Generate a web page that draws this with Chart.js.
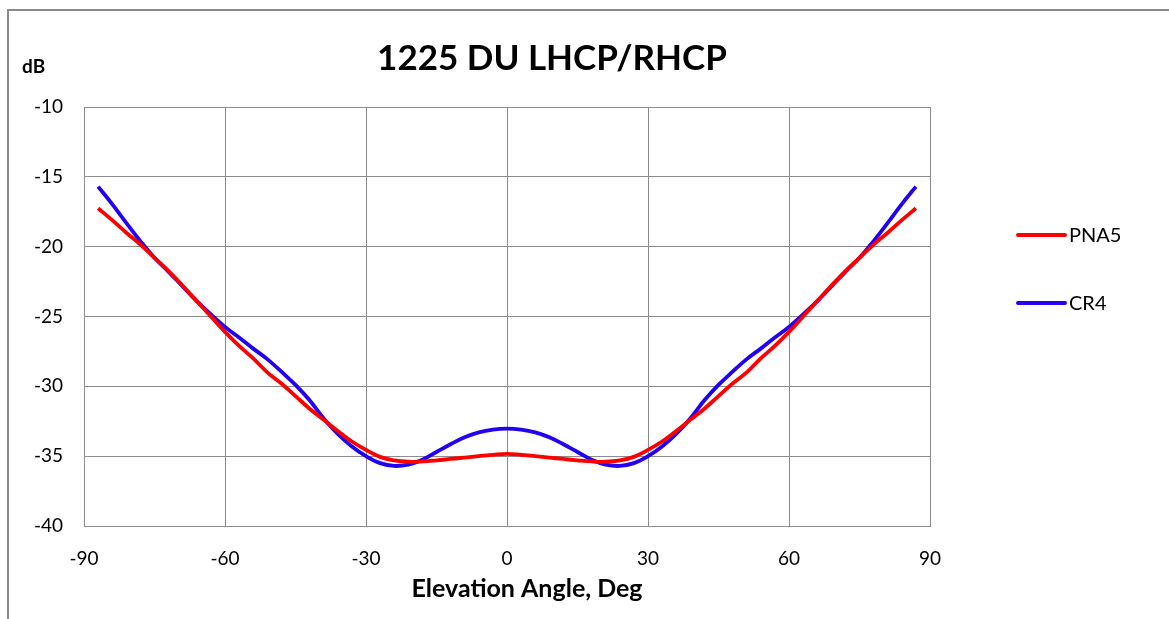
<!DOCTYPE html>
<html>
<head>
<meta charset="utf-8">
<script src="https://cdn.jsdelivr.net/npm/chart.js@4/dist/chart.umd.min.js"></script>
<style>
  html, body { margin: 0; padding: 0; background: #fff; }
  #wrap { position: relative; width: 1169px; height: 619px; }
  #frame { position: absolute; left: 7px; top: 9px; width: 1200px; height: 700px;
           border-left: 2px solid #8a8a8a; border-top: 2px solid #8a8a8a; box-sizing: border-box; }
  canvas { position: absolute; left: 0; top: 0; }
</style>
</head>
<body>
<div id="wrap">
  <div id="frame"></div>
  <canvas id="chart" width="1169" height="619"></canvas>
</div>
<script>
// elevation angle, deg
const angles = [-87, -84, -81, -78, -75, -72, -69, -66, -63, -60, -57, -54, -51, -48, -45, -42, -39, -36, -33, -30,
  -27, -24, -21, -18, -15, -12, -9, -6, -3, 0, 3, 6, 9, 12, 15, 18, 21, 24, 27, 30,
  33, 36, 39, 42, 45, 48, 51, 54, 57, 60, 63, 66, 69, 72, 75, 78, 81, 84, 87];

const pna5 = [-17.25, -18.1, -19.0, -19.85, -20.8, -21.75, -22.8, -23.9, -25.0, -26.1, -27.1, -28.0, -29.0, -29.8, -30.7, -31.6, -32.4, -33.2, -33.95, -34.55,
  -35.05, -35.3, -35.4, -35.38, -35.3, -35.2, -35.1, -35.0, -34.9, -34.83, -34.9, -35.0, -35.1, -35.2, -35.3, -35.38, -35.4, -35.3, -35.05, -34.55,
  -33.95, -33.2, -32.4, -31.6, -30.7, -29.8, -29.0, -28.0, -27.1, -26.1, -25.0, -23.9, -22.8, -21.75, -20.8, -19.85, -19.0, -18.1, -17.25];

const cr4 = [-15.7, -16.95, -18.3, -19.6, -20.8, -21.8, -22.85, -23.9, -24.85, -25.75, -26.5, -27.3, -28.05, -28.95, -29.9, -31.0, -32.3, -33.4, -34.3, -35.0,
  -35.5, -35.7, -35.6, -35.25, -34.7, -34.15, -33.65, -33.3, -33.1, -33.03, -33.1, -33.3, -33.65, -34.15, -34.7, -35.25, -35.6, -35.7, -35.5, -35.0,
  -34.3, -33.4, -32.3, -31.0, -29.9, -28.95, -28.05, -27.3, -26.5, -25.75, -24.85, -23.9, -22.85, -21.8, -20.8, -19.6, -18.3, -16.95, -15.7];

const xTicks = [-90, -60, -30, 0, 30, 60, 90];
const yTicks = [-40, -35, -30, -25, -20, -15, -10];

const FONT = 'Lato, "Open Sans", sans-serif';
const RED = '#ff0000';
const BLUE = '#2200f0';

function pts(ys) {
  return angles.map((a, i) => ({ x: a, y: ys[i] }));
}

// titles and legend, drawn at Excel-like positions
const textPlugin = {
  id: 'texts',
  afterDraw(chart) {
    const c = chart.ctx;
    c.save();
    c.fillStyle = '#000';
    c.textBaseline = 'middle';
    c.textAlign = 'center';
    c.font = 'bold 35px ' + FONT;
    c.fillText('1225 DU LHCP/RHCP', 552, 59);
    c.font = 'bold 25px ' + FONT;
    c.fillText('Elevation Angle, Deg', 527, 589);
    c.textAlign = 'left';
    c.font = 'bold 19px ' + FONT;
    c.fillText('dB', 22, 67);

    const items = [['PNA5', RED, 235], ['CR4', BLUE, 303]];
    c.font = '20px ' + FONT;
    items.forEach(([label, col, y]) => {
      c.strokeStyle = col;
      c.lineWidth = 4;
      c.lineCap = 'round';
      c.beginPath();
      c.moveTo(1018, y);
      c.lineTo(1065, y);
      c.stroke();
      c.fillStyle = '#000';
      c.fillText(label, 1069, y + 1);
    });
    c.restore();
  }
};

new Chart(document.getElementById('chart'), {
  type: 'line',
  data: {
    datasets: [
      { label: 'PNA5', data: pts(pna5), borderColor: RED, borderWidth: 3.8, pointRadius: 0, tension: 0.4 },
      { label: 'CR4', data: pts(cr4), borderColor: BLUE, borderWidth: 3.8, pointRadius: 0, tension: 0.4 }
    ]
  },
  options: {
    responsive: false,
    animation: false,
    layout: { padding: { left: 0, right: 239, top: 107, bottom: 0 } },
    plugins: { legend: { display: false }, title: { display: false }, tooltip: { enabled: false } },
    scales: {
      x: {
        type: 'linear', min: -90, max: 90,
        afterBuildTicks: s => { s.ticks = xTicks.map(v => ({ value: v })); },
        afterFit: s => { s.height = 93; },
        grid: { color: '#8c8c8c', lineWidth: 1, drawTicks: false },
        border: { color: '#8c8c8c' },
        ticks: { color: '#000', font: { family: FONT, size: 19 }, padding: 21 }
      },
      y: {
        type: 'linear', min: -40, max: -10,
        afterBuildTicks: s => { s.ticks = yTicks.map(v => ({ value: v })); },
        afterFit: s => { s.width = 84; },
        grid: { color: '#8c8c8c', lineWidth: 1, drawTicks: false },
        border: { color: '#8c8c8c' },
        ticks: { color: '#000', font: { family: FONT, size: 19 }, padding: 21 }
      }
    }
  },
  plugins: [textPlugin]
});
</script>
</body>
</html>
